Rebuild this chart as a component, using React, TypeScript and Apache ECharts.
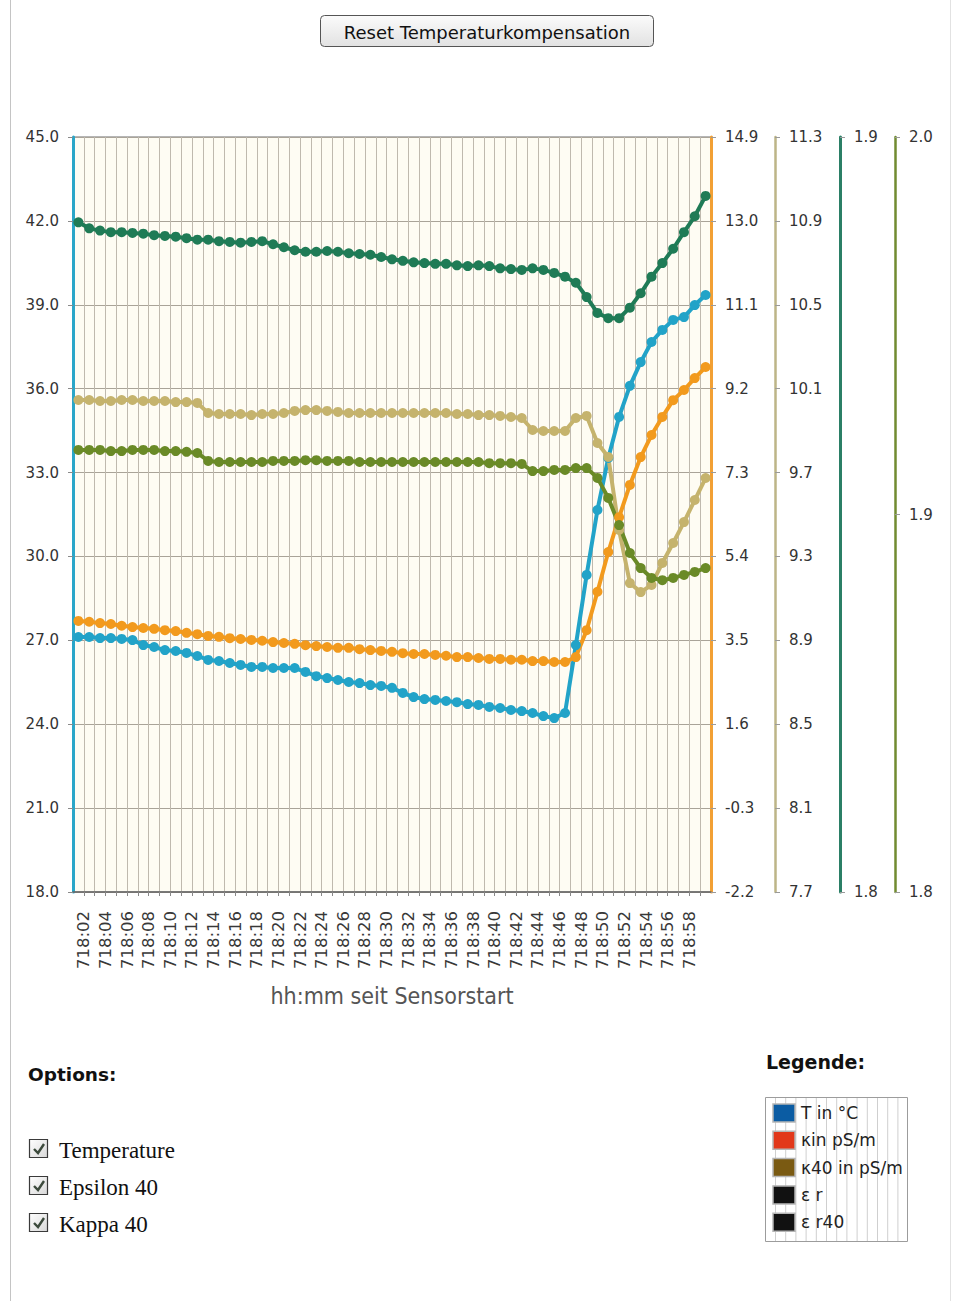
import React, { useEffect, useRef } from 'react';
import * as echarts from 'echarts';

// Tick labels of the time axis (every second minute boundary)
const timeLabels = [
  '718:02', '718:04', '718:06', '718:08', '718:10', '718:12', '718:14', '718:16',
  '718:18', '718:20', '718:22', '718:24', '718:26', '718:28', '718:30', '718:32',
  '718:34', '718:36', '718:38', '718:40', '718:42', '718:44', '718:46', '718:48',
  '718:50', '718:52', '718:54', '718:56', '718:58',
];

// Temperature in °C (left axis)
const temperature = [
  27.12, 27.12, 27.08, 27.08, 27.05, 27.01, 26.83, 26.76, 26.65, 26.62,
  26.55, 26.44, 26.30, 26.26, 26.19, 26.12, 26.05, 26.05, 26.01, 26.01,
  26.01, 25.87, 25.72, 25.65, 25.58, 25.51, 25.47, 25.40, 25.37, 25.30,
  25.12, 24.97, 24.90, 24.87, 24.83, 24.79, 24.72, 24.69, 24.62, 24.58,
  24.51, 24.47, 24.40, 24.29, 24.22, 24.40, 26.83, 29.34, 31.66, 33.52,
  34.99, 36.10, 36.95, 37.67, 38.10, 38.46, 38.56, 38.99, 39.35,
];

// Conductivity kappa in pS/m
const kappa = [
  3.94, 3.92, 3.89, 3.87, 3.83, 3.80, 3.78, 3.76, 3.73, 3.71,
  3.67, 3.64, 3.60, 3.58, 3.55, 3.53, 3.51, 3.49, 3.46, 3.44,
  3.42, 3.39, 3.37, 3.35, 3.33, 3.33, 3.30, 3.28, 3.26, 3.24,
  3.21, 3.19, 3.19, 3.17, 3.15, 3.12, 3.12, 3.10, 3.08, 3.08,
  3.06, 3.06, 3.03, 3.03, 3.01, 3.01, 3.12, 3.73, 4.60, 5.50,
  6.29, 7.02, 7.65, 8.15, 8.56, 8.94, 9.17, 9.44, 9.69,
];

// Conductivity compensated to 40 °C, pS/m
const kappa40 = [
  10.046, 10.046, 10.041, 10.041, 10.046, 10.046, 10.041, 10.041, 10.041, 10.036,
  10.036, 10.032, 9.984, 9.979, 9.979, 9.979, 9.974, 9.979, 9.979, 9.984,
  9.994, 9.998, 9.998, 9.994, 9.989, 9.984, 9.984, 9.984, 9.984, 9.984,
  9.984, 9.984, 9.984, 9.984, 9.984, 9.979, 9.979, 9.974, 9.974, 9.970,
  9.965, 9.960, 9.903, 9.898, 9.898, 9.898, 9.960, 9.970, 9.841, 9.774,
  9.426, 9.173, 9.130, 9.164, 9.269, 9.364, 9.464, 9.569, 9.674,
];

// Relative permittivity
const epsR = [
  1.8887, 1.8879, 1.8876, 1.8874, 1.8874, 1.8873, 1.8872, 1.8870, 1.8869, 1.8868,
  1.8866, 1.8864, 1.8864, 1.8862, 1.8861, 1.8860, 1.8861, 1.8862, 1.8858, 1.8854,
  1.8850, 1.8848, 1.8848, 1.8849, 1.8848, 1.8846, 1.8845, 1.8844, 1.8841, 1.8838,
  1.8836, 1.8834, 1.8833, 1.8832, 1.8832, 1.8830, 1.8829, 1.8830, 1.8829, 1.8826,
  1.8825, 1.8824, 1.8826, 1.8824, 1.8820, 1.8815, 1.8807, 1.8788, 1.8767, 1.8760,
  1.8760, 1.8774, 1.8793, 1.8815, 1.8833, 1.8852, 1.8874, 1.8895, 1.8922,
];

// Relative permittivity compensated to 40 °C
const epsR40 = [
  1.9171, 1.9171, 1.9171, 1.9168, 1.9168, 1.9171, 1.9171, 1.9171, 1.9168, 1.9168,
  1.9166, 1.9163, 1.9142, 1.9139, 1.9139, 1.9139, 1.9139, 1.9139, 1.9142, 1.9142,
  1.9142, 1.9144, 1.9144, 1.9142, 1.9142, 1.9142, 1.9139, 1.9139, 1.9139, 1.9139,
  1.9139, 1.9139, 1.9139, 1.9139, 1.9139, 1.9139, 1.9139, 1.9139, 1.9136, 1.9136,
  1.9136, 1.9134, 1.9115, 1.9115, 1.9118, 1.9118, 1.9123, 1.9123, 1.9097, 1.9044,
  1.8972, 1.8898, 1.8858, 1.8832, 1.8826, 1.8832, 1.8840, 1.8848, 1.8858,
];

// Axis tick values of the right-hand scales
const kappaTicks = [-2.2, -0.3, 1.6, 3.5, 5.4, 7.3, 9.2, 11.1, 13.0, 14.9];
const kappa40Ticks = [7.7, 8.1, 8.5, 8.9, 9.3, 9.7, 10.1, 10.5, 10.9, 11.3];
const epsRTicks = [1.8, 1.9];
const epsR40Ticks = [1.8, 1.9, 2.0];

const legendItems = ['T in °C', 'κin pS/m', 'κ40 in pS/m', 'ε r', 'ε r40'];
const legendColors = ['#0b5ca3', '#e2381a', '#7a5a12', '#111111', '#111111'];
const optionItems = ['Temperature', 'Epsilon 40', 'Kappa 40'];

// Samples are taken mid-minute; the axis counts minutes after 718:00
const sampleMinutes = temperature.map((_, i) => 1.5 + i);

const FONT = '"DejaVu Sans", Verdana, sans-serif';

const COLORS = {
  t: '#22a3c8',
  k: '#f29a1d',
  k40: '#c5b36d',
  e: '#1f7b56',
  e40: '#6a8a27',
};

function rightAxis(min: number, max: number, ticks: number[], offset: number, lineColor: string, lineWidth: number) {
  return {
    type: 'value',
    position: 'right',
    offset,
    min,
    max,
    axisLine: { show: true, onZero: false, lineStyle: { color: lineColor, width: lineWidth } },
    axisTick: { show: true, length: 5, customValues: ticks, lineStyle: { color: '#9a9a9a' } },
    axisLabel: {
      customValues: ticks,
      margin: 14,
      color: '#333',
      fontFamily: FONT,
      fontSize: 15,
      formatter: (v: number) => v.toFixed(1),
    },
    splitLine: { show: false },
  };
}

function lineSeries(name: string, values: number[], yAxisIndex: number, color: string) {
  return {
    name,
    type: 'line',
    yAxisIndex,
    data: values.map((v, i) => [sampleMinutes[i], v]),
    symbol: 'circle',
    symbolSize: 10,
    showSymbol: true,
    lineStyle: { color, width: 4 },
    itemStyle: { color },
    emphasis: { disabled: true },
  };
}

function buildGraphic() {
  const els: any[] = [];
  // page frame lines
  els.push({ type: 'line', shape: { x1: 10.5, y1: 0, x2: 10.5, y2: 1301 }, style: { stroke: '#c4c4c4', lineWidth: 1 }, silent: true });
  els.push({ type: 'line', shape: { x1: 950.5, y1: 0, x2: 950.5, y2: 1301 }, style: { stroke: '#e2e2e2', lineWidth: 1 }, silent: true });

  // reset button
  els.push({
    type: 'rect',
    shape: { x: 320.5, y: 15.5, width: 333, height: 31, r: 4 },
    style: {
      fill: new echarts.graphic.LinearGradient(0, 0, 0, 1, [
        { offset: 0, color: '#fbfbfb' },
        { offset: 1, color: '#e2e2e2' },
      ]),
      stroke: '#555',
      lineWidth: 1,
    },
    silent: true,
  });
  els.push({
    type: 'text',
    x: 487,
    y: 32,
    style: { text: 'Reset Temperaturkompensation', font: '18px ' + FONT, fill: '#111', align: 'center', verticalAlign: 'middle' },
    silent: true,
  });

  // options block
  els.push({
    type: 'text',
    x: 28,
    y: 1074,
    style: { text: 'Options:', font: 'bold 18.5px ' + FONT, fill: '#111', align: 'left', verticalAlign: 'middle' },
    silent: true,
  });
  optionItems.forEach((label, k) => {
    const cy = 1149 + k * 37;
    els.push({
      type: 'rect',
      shape: { x: 29.5, y: cy - 9.5, width: 18, height: 18 },
      style: {
        fill: new echarts.graphic.LinearGradient(0, 0, 1, 1, [
          { offset: 0, color: '#ffffff' },
          { offset: 1, color: '#d8d8d8' },
        ]),
        stroke: '#3a3a3a',
        lineWidth: 1.2,
      },
      silent: true,
    });
    els.push({
      type: 'polyline',
      shape: { points: [[34, cy], [38, cy + 4], [44, cy - 5]] },
      style: { stroke: '#3c4a3c', lineWidth: 2.4, fill: null },
      silent: true,
    });
    els.push({
      type: 'text',
      x: 59,
      y: cy + 1,
      style: { text: label, font: '23px "Liberation Serif", "Times New Roman", serif', fill: '#111', align: 'left', verticalAlign: 'middle' },
      silent: true,
    });
  });

  // legend block
  els.push({
    type: 'text',
    x: 766,
    y: 1062,
    style: { text: 'Legende:', font: 'bold 19px ' + FONT, fill: '#111', align: 'left', verticalAlign: 'middle' },
    silent: true,
  });
  els.push({
    type: 'rect',
    shape: { x: 765.5, y: 1097.5, width: 142, height: 144 },
    style: { fill: '#ffffff', stroke: '#9c9c9c', lineWidth: 1 },
    silent: true,
  });
  for (let x = 775.5; x < 907; x += 10.2) {
    els.push({
      type: 'line',
      shape: { x1: x, y1: 1098, x2: x, y2: 1241 },
      style: { stroke: '#cfcfcf', lineWidth: 1 },
      silent: true,
    });
  }
  legendItems.forEach((label, k) => {
    const top = 1104 + k * 27.3;
    els.push({
      type: 'rect',
      shape: { x: 773, y: top, width: 22, height: 18 },
      style: { fill: legendColors[k], stroke: '#b5b5b5', lineWidth: 1.5 },
      silent: true,
    });
    els.push({
      type: 'text',
      x: 801,
      y: top + 9,
      style: { text: label, font: '17px ' + FONT, fill: '#222', align: 'left', verticalAlign: 'middle' },
      silent: true,
    });
  });
  return els;
}

export default function App() {
  const ref = useRef<HTMLDivElement>(null);

  useEffect(() => {
    if (!ref.current) return;
    const chart = echarts.init(ref.current, null, { renderer: 'svg' });

    const option: any = {
      animation: false,
      backgroundColor: '#ffffff',
      textStyle: { fontFamily: FONT },
      grid: {
        left: 73,
        right: 243,
        top: 137,
        bottom: 409,
        show: true,
        backgroundColor: '#fefcf3',
        borderColor: '#6c6c6c',
        borderWidth: 1,
        containLabel: false,
        outerBoundsMode: 'none',
      },
      xAxis: {
        type: 'value',
        min: 1,
        max: 60,
        interval: 1,
        name: 'hh:mm seit Sensorstart',
        nameLocation: 'middle',
        nameGap: 92,
        nameTextStyle: {
          color: '#555',
          fontSize: 23,
          fontFamily: '"DejaVu Sans Condensed", "DejaVu Sans", sans-serif',
        },
        axisLine: { show: true, onZero: false, lineStyle: { color: '#666', width: 1.5 } },
        axisTick: { show: true, length: 4, lineStyle: { color: '#888' } },
        axisLabel: {
          rotate: 90,
          margin: 19,
          color: '#383838',
          fontSize: 16.5,
          fontFamily: FONT,
          showMinLabel: false,
          showMaxLabel: false,
          formatter: (v: number) => {
            const idx = (Math.round(v) - 2) / 2;
            return Number.isInteger(idx) && idx >= 0 && idx < timeLabels.length ? timeLabels[idx] : '';
          },
        },
        splitLine: { show: true, lineStyle: { color: '#bfb9ae', width: 1 } },
      },
      yAxis: [
        {
          type: 'value',
          position: 'left',
          min: 18,
          max: 45,
          interval: 3,
          axisLine: { show: true, onZero: false, lineStyle: { color: '#2aa6c8', width: 3 } },
          axisTick: { show: true, length: 5, lineStyle: { color: '#8a8a8a' } },
          axisLabel: {
            margin: 14,
            color: '#333',
            fontSize: 15,
            fontFamily: FONT,
            formatter: (v: number) => v.toFixed(1),
          },
          splitLine: { show: true, lineStyle: { color: '#a9a398', width: 1 } },
        },
        rightAxis(-2.2, 14.9, kappaTicks, 0, '#f2a034', 3),
        rightAxis(7.7, 11.3, kappa40Ticks, 64, '#bdb587', 2.5),
        rightAxis(1.8, 1.9, epsRTicks, 129, '#2b7f66', 3),
        rightAxis(1.8, 2.0, epsR40Ticks, 184, '#718b30', 2.5),
      ],
      series: [
        lineSeries('T in °C', temperature, 0, COLORS.t),
        lineSeries('κ in pS/m', kappa, 1, COLORS.k),
        lineSeries('κ40 in pS/m', kappa40, 2, COLORS.k40),
        lineSeries('ε r', epsR, 3, COLORS.e),
        lineSeries('ε r40', epsR40, 4, COLORS.e40),
      ],
      graphic: buildGraphic(),
    };

    chart.setOption(option);
    return () => chart.dispose();
  }, []);

  return (
    <div
      ref={ref}
      style={{ position: 'absolute', left: 0, top: 0, width: 954, height: 1301, background: '#ffffff' }}
    />
  );
}
